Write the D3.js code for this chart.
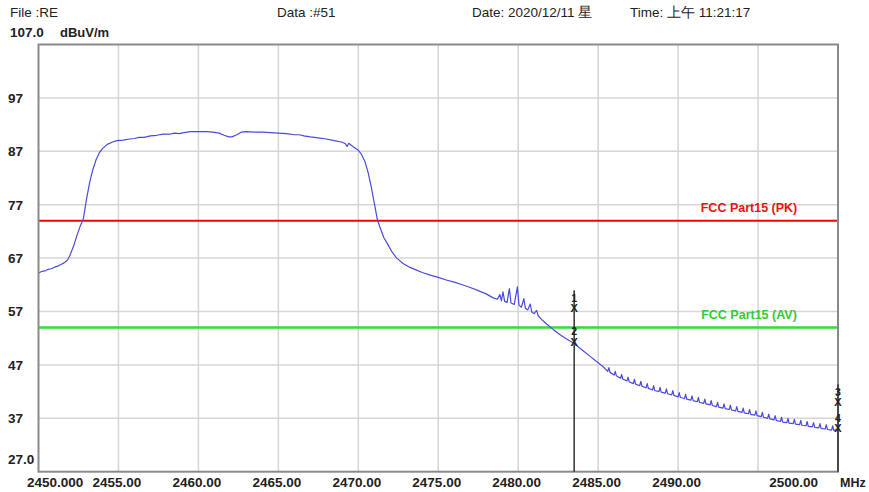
<!DOCTYPE html>
<html>
<head>
<meta charset="utf-8">
<script src="https://cdn.jsdelivr.net/npm/d3@7"></script>
<style>
  body { margin: 0; background: #fff; }
  text { font-family: "Liberation Sans", Arial, sans-serif; }
</style>
</head>
<body>
<div class="data-chart"></div>
<script>
// header texts
var headerTexts = ["File :RE", "Data :#51", "Date: 2020/12/11 星", "Time: 上午 11:21:17"];

// axis ticks
var yTicks = [27, 37, 47, 57, 67, 77, 87, 97, 107];
var yTickLabels = ["27.0", "37", "47", "57", "67", "77", "87", "97", "107.0"];
var xTicks = [2450, 2455, 2460, 2465, 2470, 2475, 2480, 2485, 2490, 2495, 2500];
var xTickLabels = ["2450.000", "2455.00", "2460.00", "2465.00", "2470.00", "2475.00", "2480.00", "2485.00", "2490.00", "", "2500.00"];

// limit lines
var limitNames = ["FCC Part15 (PK)", "FCC Part15 (AV)"];
var limitValues = [74, 54];

// markers
var markerLabels = ["1", "2", "3", "4"];
var markerFreqs = [2483.5, 2483.5, 2500, 2500];
var markerValues = [57.6, 51.3, 40.0, 35.1];

// measured trace [MHz, dBuV/m]
var trace = [
  [2450.0,64.2],[2450.2,64.5],[2450.4,64.6],[2450.6,64.9],[2450.8,65.0],[2451.0,65.3],[2451.2,65.5],
  [2451.4,65.8],[2451.6,66.1],[2451.8,66.6],[2451.95,67.4],[2452.2,69.3],[2452.4,71.2],[2452.6,72.9],
  [2452.8,74.3],[2453.0,78.0],[2453.2,81.2],[2453.4,83.6],[2453.6,85.4],[2453.8,86.7],[2454.0,87.5],
  [2454.3,88.3],[2454.6,88.7],[2454.9,89.0],[2455.3,89.1],[2455.7,89.3],[2456.0,89.4],[2456.3,89.6],
  [2456.6,89.6],[2457.0,89.9],[2457.4,90.0],[2457.8,90.2],[2458.2,90.2],[2458.5,90.4],[2458.8,90.3],
  [2459.1,90.5],[2459.5,90.7],[2460.0,90.7],[2460.5,90.7],[2460.9,90.6],[2461.3,90.4],[2461.6,90.0],
  [2461.9,89.7],[2462.1,89.7],[2462.4,90.1],[2462.7,90.6],[2463.0,90.7],[2463.5,90.6],[2464.0,90.6],
  [2464.5,90.5],[2465.0,90.4],[2465.5,90.3],[2466.0,90.1],[2466.3,90.1],[2466.6,89.9],[2467.0,89.7],
  [2467.5,89.5],[2468.0,89.3],[2468.5,89.0],[2469.0,88.7],[2469.2,88.4],[2469.3,87.9],[2469.4,88.5],
  [2469.7,87.8],[2470.0,87.2],[2470.2,86.4],[2470.4,85.2],[2470.6,83.2],[2470.8,80.5],[2471.0,77.3],
  [2471.2,74.1],[2471.4,72.4],[2471.6,70.8],[2471.8,69.8],[2472.1,68.2],[2472.4,67.0],[2472.8,66.0],
  [2473.2,65.3],[2473.6,64.8],[2474.0,64.3],[2474.5,63.8],[2475.0,63.4],[2475.5,62.9],[2476.0,62.5],
  [2476.5,62.0],[2477.0,61.5],[2477.5,60.9],[2478.0,60.3],[2478.4,59.6],[2478.7,59.3],[2478.85,60.2],
  [2478.95,59.0],[2479.05,60.7],[2479.15,58.9],[2479.3,58.7],[2479.45,61.3],[2479.55,58.6],[2479.75,58.3],
  [2479.95,61.6],[2480.05,58.2],[2480.2,57.8],[2480.35,59.4],[2480.45,57.6],[2480.6,57.3],[2480.75,58.4],
  [2480.85,56.9],[2481.0,56.6],[2481.15,57.2],[2481.25,56.2],[2481.5,55.4],[2481.8,54.6],[2482.2,53.6],
  [2482.6,52.7],[2483.0,51.9],[2483.5,51.0],[2484.0,49.8],[2484.5,48.6],[2485.0,47.4],[2485.3,46.7],
  [2485.6,45.8],[2485.67,46.5],[2485.74,45.6],[2486.0,45.1],[2486.07,45.8],[2486.14,44.95],
  [2486.4,44.5],[2486.47,45.2],[2486.54,44.35],[2486.8,44.0],[2486.87,44.7],[2486.94,43.85],
  [2487.2,43.5],[2487.27,44.3],[2487.34,43.4],[2487.6,43.1],[2487.67,43.9],[2487.74,43.0],
  [2488.0,42.7],[2488.07,43.5],[2488.14,42.6],[2488.4,42.3],[2488.47,43.1],[2488.54,42.2],
  [2488.8,42.0],[2488.87,42.8],[2488.94,41.9],[2489.2,41.7],[2489.27,42.5],[2489.34,41.6],
  [2489.6,41.4],[2489.67,42.2],[2489.74,41.3],[2490.0,41.0],[2490.07,41.8],[2490.14,40.9],
  [2490.4,40.7],[2490.47,41.5],[2490.54,40.6],[2490.8,40.4],[2490.87,41.2],[2490.94,40.3],
  [2491.2,40.1],[2491.27,40.9],[2491.34,40.0],[2491.6,39.8],[2491.67,40.6],[2491.74,39.7],
  [2492.0,39.5],[2492.07,40.3],[2492.14,39.4],[2492.4,39.2],[2492.47,40.0],[2492.54,39.1],
  [2492.8,38.9],[2492.87,39.7],[2492.94,38.8],[2493.2,38.65],[2493.27,39.45],[2493.34,38.55],
  [2493.6,38.4],[2493.67,39.2],[2493.74,38.3],[2494.0,38.1],[2494.07,38.9],[2494.14,38.0],
  [2494.4,37.85],[2494.47,38.65],[2494.54,37.75],[2494.8,37.6],[2494.87,38.4],[2494.94,37.5],
  [2495.2,37.3],[2495.27,38.1],[2495.34,37.2],[2495.6,37.0],[2495.67,37.8],[2495.74,36.9],
  [2496.0,36.7],[2496.07,37.5],[2496.14,36.6],[2496.4,36.4],[2496.47,37.2],[2496.54,36.3],
  [2496.8,36.2],[2496.87,37.0],[2496.94,36.1],[2497.2,36.0],[2497.27,36.8],[2497.34,35.9],
  [2497.6,35.8],[2497.67,36.6],[2497.74,35.7],[2498.0,35.6],[2498.07,36.4],[2498.14,35.5],
  [2498.4,35.4],[2498.47,36.2],[2498.54,35.3],[2498.8,35.2],[2498.87,36.0],[2498.94,35.1],
  [2499.2,35.0],[2499.27,35.8],[2499.34,34.9],[2499.6,34.8],[2499.67,35.6],[2499.74,34.7],
  [2500.0,35.0]
];

var width = 869,
	height = 492,
	plotLeft = 38.5, plotRight = 838, plotTop = 44.5, plotBottom = 471.7;

var x = d3.scaleLinear().domain([2450, 2500]).range([plotLeft, plotRight]);
var y = d3.scaleLinear().domain([27, 107]).range([plotBottom, plotTop]);

var svg = d3.select(".data-chart")
	.append("svg")
	.attr("width", width)
	.attr("height", height)
	.style("display", "block");

svg.append("rect").attr("width", width).attr("height", height).attr("fill", "#fff");

// header line
var headerX = [10, 277, 472, 630];
svg.append("g").selectAll("text")
	.data(headerTexts)
	.enter()
	.append("text")
	.attr("x", function(d, i) { return headerX[i]; })
	.attr("y", 17)
	.attr("font-size", "13.5px")
	.attr("fill", "#222")
	.text(function(d) { return d; });

svg.append("text")
	.attr("x", 60).attr("y", 37)
	.attr("font-size", "13px").attr("font-weight", "bold").attr("fill", "#222")
	.text("dBuV/m");

// grid
var grid = svg.append("g").attr("stroke", "#d6d6d6").attr("stroke-width", 1.5);
grid.selectAll(".gx")
	.data(xTicks.slice(1, -1))
	.enter()
	.append("line")
	.attr("x1", x).attr("x2", x)
	.attr("y1", plotTop).attr("y2", plotBottom);
grid.selectAll(".gy")
	.data(yTicks.slice(1, -1))
	.enter()
	.append("line")
	.attr("x1", plotLeft).attr("x2", plotRight)
	.attr("y1", y).attr("y2", y);

// y labels
svg.append("g").selectAll("text")
	.data(yTicks)
	.enter()
	.append("text")
	.attr("x", function(d, i) { return i == yTicks.length - 1 ? 10 : 8; })
	.attr("y", function(d, i) {
		if (i == 0) return y(d) - 8;
		if (i == yTicks.length - 1) return y(d) - 7.5;
		return y(d) + 4.8;
	})
	.attr("font-size", "13.5px")
	.attr("font-weight", "bold")
	.attr("fill", "#222")
	.text(function(d, i) { return yTickLabels[i]; });

// x labels
svg.append("g").selectAll("text")
	.data(xTicks)
	.enter()
	.append("text")
	.attr("x", function(d, i) {
		if (i == 0) return 27;
		if (i == xTicks.length - 1) return x(d) - 20;
		return x(d) - 1.5;
	})
	.attr("y", 487)
	.attr("text-anchor", function(d, i) {
		if (i == 0) return "start";
		if (i == xTicks.length - 1) return "end";
		return "middle";
	})
	.attr("font-size", "13.5px")
	.attr("font-weight", "bold")
	.attr("fill", "#222")
	.text(function(d, i) { return xTickLabels[i]; });

svg.append("text")
	.attr("x", 840).attr("y", 487)
	.attr("font-size", "12.5px").attr("font-weight", "bold").attr("fill", "#222")
	.text("MHz");

// limit lines
var limitColors = ["#ff0000", "#33dd33"];
var limitText = ["#ee1111", "#33cc33"];
var limitWidth = [2, 2.7];
var limits = svg.append("g");
limits.selectAll("line")
	.data(limitValues)
	.enter()
	.append("line")
	.attr("x1", plotLeft).attr("x2", plotRight)
	.attr("y1", y).attr("y2", y)
	.attr("stroke", function(d, i) { return limitColors[i]; })
	.attr("stroke-width", function(d, i) { return limitWidth[i]; });
limits.selectAll("text")
	.data(limitValues)
	.enter()
	.append("text")
	.attr("x", 749)
	.attr("y", function(d) { return y(d) - 8.5; })
	.attr("text-anchor", "middle")
	.attr("font-size", "12.5px")
	.attr("font-weight", "bold")
	.attr("fill", function(d, i) { return limitText[i]; })
	.text(function(d, i) { return limitNames[i]; });

// trace
var line = d3.line()
	.x(function(d) { return x(d[0]); })
	.y(function(d) { return y(d[1]); });

svg.append("path")
	.datum(trace)
	.attr("d", line)
	.attr("fill", "none")
	.attr("stroke", "#4a4ae0")
	.attr("stroke-width", 1.2)
	.attr("stroke-linejoin", "round");

// plot frame
svg.append("rect")
	.attr("x", plotLeft).attr("y", plotTop)
	.attr("width", plotRight - plotLeft).attr("height", plotBottom - plotTop)
	.attr("fill", "none")
	.attr("stroke", "#8a8a8a")
	.attr("stroke-width", 2);

// marker lines, one per frequency from top marker down to axis
var markerTop = {};
markerFreqs.forEach(function(f, i) {
	if (markerTop[f] === undefined || markerValues[i] > markerTop[f]) markerTop[f] = markerValues[i];
});
svg.append("g").selectAll("line")
	.data(Object.keys(markerTop))
	.enter()
	.append("line")
	.attr("x1", function(d) { return x(+d); })
	.attr("x2", function(d) { return x(+d); })
	.attr("y1", function(d) { return y(markerTop[d]) - 18; })
	.attr("y2", plotBottom)
	.attr("stroke", "#333")
	.attr("stroke-width", 1.5);

var marks = svg.append("g").selectAll("g")
	.data(markerValues)
	.enter()
	.append("g")
	.attr("transform", function(d, i) { return "translate(" + x(markerFreqs[i]) + "," + y(d) + ")"; });

marks.append("text")
	.attr("y", 4)
	.attr("text-anchor", "middle")
	.attr("font-size", "11px")
	.attr("font-weight", "bold")
	.attr("fill", "#222")
	.text("X");

marks.append("text")
	.attr("y", -6.5)
	.attr("text-anchor", "middle")
	.attr("font-size", "10.5px")
	.attr("font-weight", "bold")
	.attr("fill", "#222")
	.text(function(d, i) { return markerLabels[i]; });
</script>
</body>
</html>
